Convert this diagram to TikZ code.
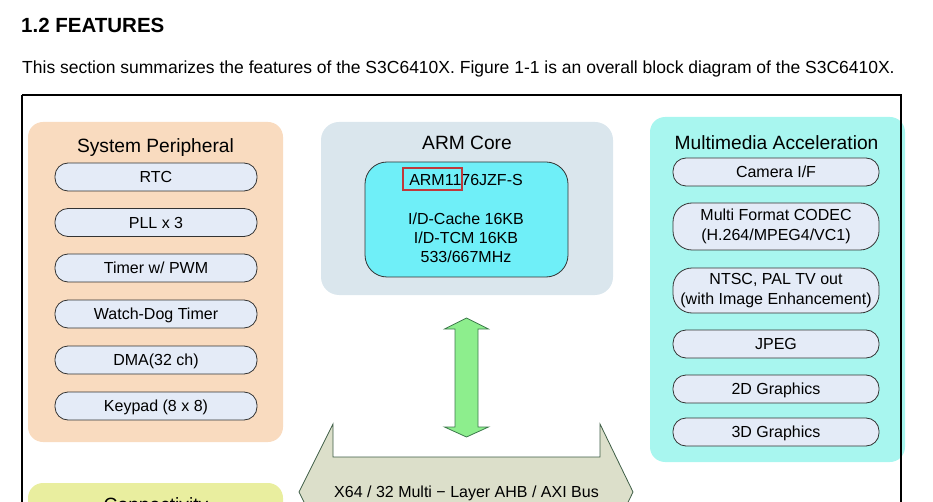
\documentclass[tikz,border=0pt]{standalone}
\usepackage{fontspec}
\setmainfont{Liberation Sans}
\definecolor{sysc}{HTML}{F9DBBF}
\definecolor{pillc}{HTML}{E4EBF7}
\definecolor{armc}{HTML}{DAE6ED}
\definecolor{armin}{HTML}{6FEFF8}
\definecolor{mmc}{HTML}{A8F6EF}
\definecolor{conc}{HTML}{E9EE9F}
\definecolor{arrowc}{HTML}{8DEE8D}
\definecolor{arrowd}{HTML}{3D7A4C}
\definecolor{busc}{HTML}{DCDFCA}
\definecolor{busd}{HTML}{3E5E46}
\definecolor{redbox}{HTML}{C0393B}
\begin{document}
\begin{tikzpicture}[x=1pt,y=-1pt,
  panel/.style={rounded corners=15pt},
  pillbase/.style={draw=black!80, line width=0.8pt, fill=pillc, inner sep=0pt,
    font=\fontsize{16}{20}\selectfont},
  pill/.style={pillbase, rounded corners=13pt, minimum width=202pt, minimum height=28pt,
    text height=11.5pt, text depth=0pt},
  bigpill/.style={pillbase, rounded corners=19pt, minimum width=206pt, minimum height=47pt, align=center},
  ttl/.style={font=\fontsize{19.2}{22}\selectfont, anchor=base, inner sep=0pt},
  armtxt/.style={font=\fontsize{16}{19}\selectfont, anchor=base, inner sep=0pt}
]
\useasboundingbox (0,0) rectangle (933,502);
\clip (0,0) rectangle (933,502);

% header
\node[anchor=base west, inner sep=0pt, font=\fontsize{20.5}{24}\selectfont\bfseries] (head) at (21,33) {1.2 FEATURES};
\node[anchor=base west, inner sep=0pt, font=\fontsize{17.5}{20}\selectfont] (intro) at (22,73.5)
  {This section summarizes the features of the S3C6410X. Figure 1-1 is an overall block diagram of the S3C6410X.};

% System Peripheral
\fill[sysc, panel] (28,122) rectangle (283,442);
\node[ttl] (sysT) at (155.5,152.5) {System Peripheral};
\node[pill] (rtc) at (156,177) {RTC};
\node[pill] (pll) at (156,222.5) {PLL x 3};
\node[pill] (tmr) at (156,268) {Timer w/ PWM};
\node[pill] (wdt) at (156,314) {Watch-Dog Timer};
\node[pill] (dma) at (156,360) {DMA(32 ch)};
\node[pill] (kpd) at (156,406) {Keypad (8 x 8)};

% Connectivity
\fill[conc, panel] (28,483) rectangle (283,620);
\node[ttl] (conT) at (156,511.5) {Connectivity};

% ARM Core
\fill[armc, rounded corners=18pt] (321,122) rectangle (613,295);
\node[ttl] (armT) at (467,149.3) {ARM Core};
\draw[black!80, line width=0.8pt, fill=armin, rounded corners=22pt] (365,162) rectangle (568,277);
\node[armtxt] (arm1) at (466,186) {ARM1176JZF-S};
\node[armtxt] (arm2) at (466,225) {I/D-Cache 16KB};
\node[armtxt] (arm3) at (466,244) {I/D-TCM 16KB};
\node[armtxt] (arm4) at (466,263) {533/667MHz};
\draw[redbox, line width=1.4pt] (403,168) rectangle (462,190);

% Multimedia
\fill[mmc, panel] (650,117) rectangle (905,462);
\node[ttl] (mmT) at (776.5,149.3) {Multimedia Acceleration};
\node[pill, minimum width=206pt] (cam) at (776,172) {Camera I/F};
\node[bigpill] (codec) at (776,226.5) {Multi Format CODEC\\(H.264/MPEG4/VC1)};
\node[bigpill, minimum height=45pt] (tv) at (776,290.5) {NTSC, PAL TV out\\(with Image Enhancement)};
\node[pill, minimum width=206pt] (jpeg) at (776,344) {JPEG};
\node[pill, minimum width=206pt] (g2d) at (776,389) {2D Graphics};
\node[pill, minimum width=206pt] (g3d) at (776,432) {3D Graphics};

% green double arrow
\draw[arrowd, fill=arrowc, line width=0.8pt, line join=miter]
  (466.5,318) -- (488.5,329) -- (478,329) -- (478,427) -- (488.5,427) -- (466.5,437)
  -- (444.5,427) -- (455,427) -- (455,329) -- (444.5,329) -- cycle;

% bus
\draw[busd, fill=busc, line width=0.8pt]
  (333,424) -- (333,457) -- (600,457) -- (600,424) -- (633,492) -- (600,560)
  -- (333,560) -- (299,492) -- cycle;
\node[armtxt] (bus) at (466.5,497) {X64 / 32 Multi − Layer AHB / AXI Bus};

% outer frame
\draw[black, line width=2pt] (22,95) -- (901,95) -- (901,560) (22,95) -- (22,560);
\end{tikzpicture}
\end{document}
